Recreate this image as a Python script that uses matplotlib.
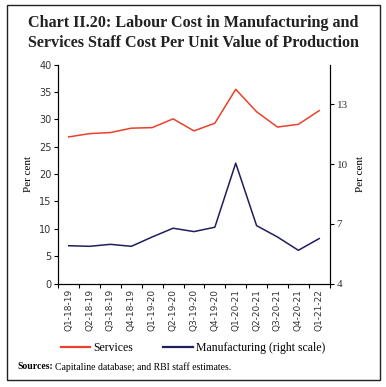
import numpy as np
import matplotlib.pyplot as plt
from matplotlib.patches import Rectangle
from matplotlib.lines import Line2D

# Quarters on the x axis
quarters = ['Q1-18-19', 'Q2-18-19', 'Q3-18-19', 'Q4-18-19', 'Q1-19-20', 'Q2-19-20',
            'Q3-19-20', 'Q4-19-20', 'Q1-20-21', 'Q2-20-21', 'Q3-20-21', 'Q4-20-21',
            'Q1-21-22']

# Per cent
services = [26.8, 27.4, 27.6, 28.4, 28.5, 30.1, 27.9, 29.3, 35.5, 31.4, 28.6, 29.1, 31.6]
manufacturing = [5.9, 5.87, 5.97, 5.87, 6.34, 6.78, 6.61, 6.83, 10.05, 6.91, 6.34, 5.67, 6.26]

left_ticks = [0, 5, 10, 15, 20, 25, 30, 35, 40]
right_ticks = [4, 7, 10, 13]

red = '#E8412C'
navy = '#1E1E5C'
serif = 'Liberation Serif'

fig = plt.figure(figsize=(3.86, 3.87), dpi=100)
# outer box round the whole chart
fig.patches.append(Rectangle((0.018, 0.018), 0.966, 0.968, transform=fig.transFigure,
                             fill=False, edgecolor='#222222', linewidth=1.0))

fig.text(0.5, 0.94, 'Chart II.20: Labour Cost in Manufacturing and', ha='center', va='center',
         fontsize=11.6, fontweight='bold', family=serif, color='#222222')
fig.text(0.5, 0.888, 'Services Staff Cost Per Unit Value of Production', ha='center', va='center',
         fontsize=11.6, fontweight='bold', family=serif, color='#222222')

ax = fig.add_axes([0.151, 0.2674, 0.703, 0.5654])
ax2 = ax.twinx()

x = np.arange(len(quarters))
ax.plot(x, services, color=red, linewidth=1.1)
ax2.plot(x, manufacturing, color=navy, linewidth=1.1)

ax.set_xlim(-0.5, len(quarters) - 0.5)
ax.set_ylim(0, 40)
ax.set_yticks(left_ticks)
ax2.set_ylim(4, 15)
ax2.set_yticks(right_ticks)

# labels at the centres, tick marks between quarters
ax.set_xticks(x)
ax.set_xticklabels(quarters, rotation=90, fontsize=6.5, color='#333333')
ax.set_xticks(np.arange(-0.5, len(quarters)), minor=True)
ax.tick_params(axis='x', which='major', length=0, pad=4)
ax.tick_params(axis='x', which='minor', length=3, direction='out', width=0.8)
ax.tick_params(axis='y', labelsize=7, length=3, width=0.8, pad=2, labelcolor='#333333')
ax2.tick_params(axis='y', labelsize=8, length=3, width=0.8, pad=2, labelcolor='#333333')
for lab in ax2.get_yticklabels():
    lab.set_family(serif)

for a in (ax, ax2):
    a.spines['top'].set_visible(False)
    for s in ('left', 'right', 'bottom'):
        a.spines[s].set_linewidth(0.8)

ax.set_ylabel('Per cent', family=serif, fontsize=8, labelpad=4)
ax2.set_ylabel('Per cent', family=serif, fontsize=8, labelpad=6)

handles = [Line2D([], [], color=red, linewidth=1.6), Line2D([], [], color=navy, linewidth=1.6)]
fig.legend(handles, ['Services', 'Manufacturing (right scale)'], loc='center',
           bbox_to_anchor=(0.5, 0.1), ncol=2, frameon=False, handlelength=2.5,
           handletextpad=0.3, columnspacing=2.5, prop={'family': serif, 'size': 8.5})

# source note: bold lead-in, then plain text right after it
src = fig.text(0.045, 0.052, 'Sources:', fontsize=7, family=serif, fontweight='bold', va='center')
fig.canvas.draw()
bb = src.get_window_extent().transformed(fig.transFigure.inverted())
fig.text(bb.x1 + 0.006, 0.052, 'Capitaline database; and RBI staff estimates.', fontsize=7,
         family=serif, va='center')

fig.savefig('out.png', dpi=100)
